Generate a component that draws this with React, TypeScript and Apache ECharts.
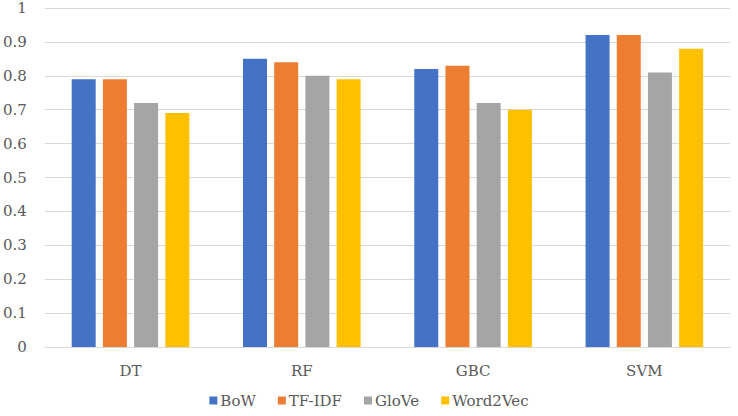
import React, { useEffect, useRef } from "react";
import * as echarts from "echarts";

const categories = ["DT", "RF", "GBC", "SVM"];
const seriesNames = ["BoW", "TF-IDF", "GloVe", "Word2Vec"];
const bowValues = [0.79, 0.85, 0.82, 0.92];
const tfidfValues = [0.79, 0.84, 0.83, 0.92];
const gloveValues = [0.72, 0.8, 0.72, 0.81];
const word2vecValues = [0.69, 0.79, 0.7, 0.88];
const colors = ["#4472C4", "#ED7D31", "#A5A5A5", "#FFC000"];

export default function App() {
  const ref = useRef<HTMLDivElement>(null);
  useEffect(() => {
    document.body.style.margin = "0";
    if (!ref.current) return;
    const chart = echarts.init(ref.current, undefined, { renderer: "svg" });
    const font = "DejaVu Serif";
    const values = [bowValues, tfidfValues, gloveValues, word2vecValues];
    chart.setOption({
      animation: false,
      backgroundColor: "#ffffff",
      textStyle: { fontFamily: font },
      grid: { left: 43, right: 8, top: 8, bottom: 69, containLabel: false },
      legend: {
        bottom: 3,
        left: "center",
        itemWidth: 8,
        itemHeight: 8,
        itemGap: 22,
        icon: "rect",
        textStyle: { fontFamily: font, fontSize: 15, color: "#595959", padding: [0, 0, 0, -2] },
        data: seriesNames,
      },
      xAxis: {
        type: "category",
        data: categories,
        axisLine: { lineStyle: { color: "#D9D9D9", width: 1 } },
        axisTick: { show: false },
        axisLabel: { fontFamily: font, fontSize: 15, color: "#595959", margin: 16 },
      },
      yAxis: {
        type: "value",
        min: 0,
        max: 1,
        interval: 0.1,
        axisLine: { show: false },
        axisTick: { show: false },
        splitLine: { lineStyle: { color: "#D9D9D9", width: 1 } },
        axisLabel: { fontFamily: font, fontSize: 15, color: "#595959", margin: 18 },
      },
      series: seriesNames.map((name, i) => ({
        name,
        type: "bar",
        data: values[i],
        barWidth: 24,
        barGap: "30%",
        itemStyle: { color: colors[i] },
      })),
    });
    return () => chart.dispose();
  }, []);
  return <div ref={ref} style={{ width: 738, height: 416 }} />;
}
